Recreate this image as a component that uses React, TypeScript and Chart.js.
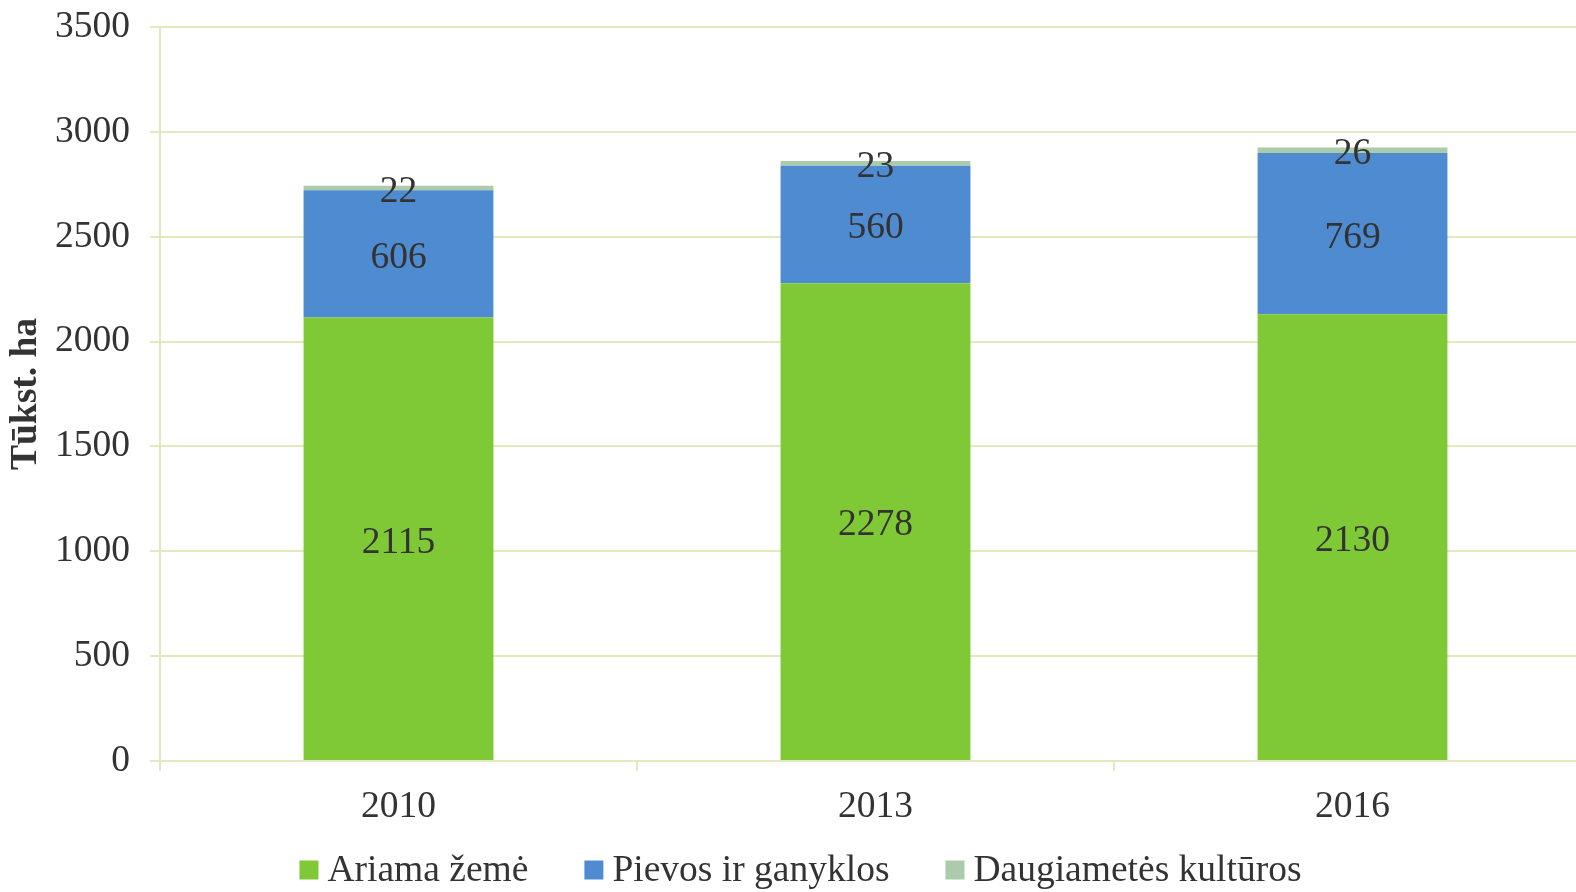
import React, { useEffect, useRef } from "react";
import { Chart, registerables } from "chart.js";

Chart.register(...registerables);

const categories = ["2010", "2013", "2016"];
const arable = [2115, 2278, 2130];
const meadows = [606, 560, 769];
const perennial = [22, 23, 26];
const seriesNames = ["Ariama žemė", "Pievos ir ganyklos", "Daugiametės kultūros"];
const seriesColors = ["#80c936", "#4f8bd0", "#abcbab"];
const yTicks = [0, 500, 1000, 1500, 2000, 2500, 3000, 3500];
const yTitle = "Tūkst. ha";

const FONT = "'Liberation Serif', 'Times New Roman', serif";
const GRID = "#e2eabd";
const TEXT = "#333333";
const FS = 37.5;
const CANVAS_W = 1591;

const labelPlugin = {
  id: "barLabels",
  afterDatasetsDraw(chart: any) {
    const ctx = chart.ctx;
    ctx.save();
    ctx.font = `${FS}px ${FONT}`;
    ctx.fillStyle = TEXT;
    ctx.textAlign = "center";
    ctx.textBaseline = "middle";
    chart.data.datasets.forEach((ds: any, di: number) => {
      const meta = chart.getDatasetMeta(di);
      meta.data.forEach((bar: any, i: number) => {
        const y = (bar.y + bar.base) / 2;
        ctx.fillText(String(ds.data[i]), bar.x, y + 4);
      });
    });
    ctx.restore();
  },
};

const legendPlugin = {
  id: "customLegend",
  afterDraw(chart: any) {
    const ctx = chart.ctx;
    ctx.save();
    ctx.font = `${FS}px ${FONT}`;
    ctx.textBaseline = "middle";
    ctx.textAlign = "left";
    const box = 19;
    const gapBoxText = 9;
    const gapItems = 56;
    const widths = seriesNames.map((n) => ctx.measureText(n).width);
    const total = widths.reduce((a, w) => a + box + gapBoxText + w, 0) + gapItems * (seriesNames.length - 1);
    let x = 303 + (995 - total) / 2;
    const y = 870;
    seriesNames.forEach((n, i) => {
      ctx.fillStyle = seriesColors[i];
      ctx.fillRect(x, y - box / 2, box, box);
      x += box + gapBoxText;
      ctx.fillStyle = TEXT;
      ctx.fillText(n, x, y + 1);
      x += widths[i] + gapItems;
    });
    ctx.restore();
  },
};

export default function App() {
  const ref = useRef<HTMLCanvasElement>(null);
  useEffect(() => {
    document.body.style.margin = "0";
    document.body.style.overflow = "hidden";
    const chart = new Chart(ref.current!, {
      type: "bar",
      data: {
        labels: categories,
        datasets: seriesNames.map((n, i) => ({
          label: n,
          data: [arable, meadows, perennial][i],
          backgroundColor: seriesColors[i],
        })),
      },
      options: {
        animation: false,
        responsive: false,
        devicePixelRatio: 1,
        layout: { padding: { left: 0, right: 0, top: 27, bottom: 61 } },
        datasets: { bar: { categoryPercentage: 1, barPercentage: 0.398 } },
        plugins: {
          tooltip: { enabled: false },
          legend: { display: false },
        },
        scales: {
          x: {
            stacked: true,
            grid: { drawOnChartArea: false, color: GRID, lineWidth: 2, tickLength: 10 },
            border: { color: GRID, width: 2 },
            ticks: { font: { family: FONT, size: FS }, color: TEXT, padding: 14 },
            afterFit: (s: any) => { s.height = 70; s.paddingLeft = 0; s.paddingRight = 0; },
          },
          y: {
            stacked: true,
            min: 0,
            max: 3500,
            afterBuildTicks: (s: any) => { s.ticks = yTicks.map((v) => ({ value: v })); },
            grid: { color: GRID, lineWidth: 2, tickLength: 10 },
            border: { color: GRID, width: 2 },
            ticks: {
              font: { family: FONT, size: FS },
              color: TEXT,
              padding: 20,
              callback: (v: any) => String(v),
            },
            title: {
              display: true,
              text: yTitle,
              font: { family: FONT, size: 37.5, weight: "bold" },
              color: TEXT,
              padding: { top: 4, bottom: 0 },
            },
            afterFit: (s: any) => { s.width = 160; s.paddingTop = 0; s.paddingBottom = 0; },
          },
        },
      },
      plugins: [labelPlugin, legendPlugin],
    } as any);
    return () => chart.destroy();
  }, []);
  return (
    <div style={{ width: 1576, height: 892, overflow: "hidden" }}>
      <canvas ref={ref} width={CANVAS_W} height={892} style={{ width: CANVAS_W, height: 892, display: "block" }} />
    </div>
  );
}
